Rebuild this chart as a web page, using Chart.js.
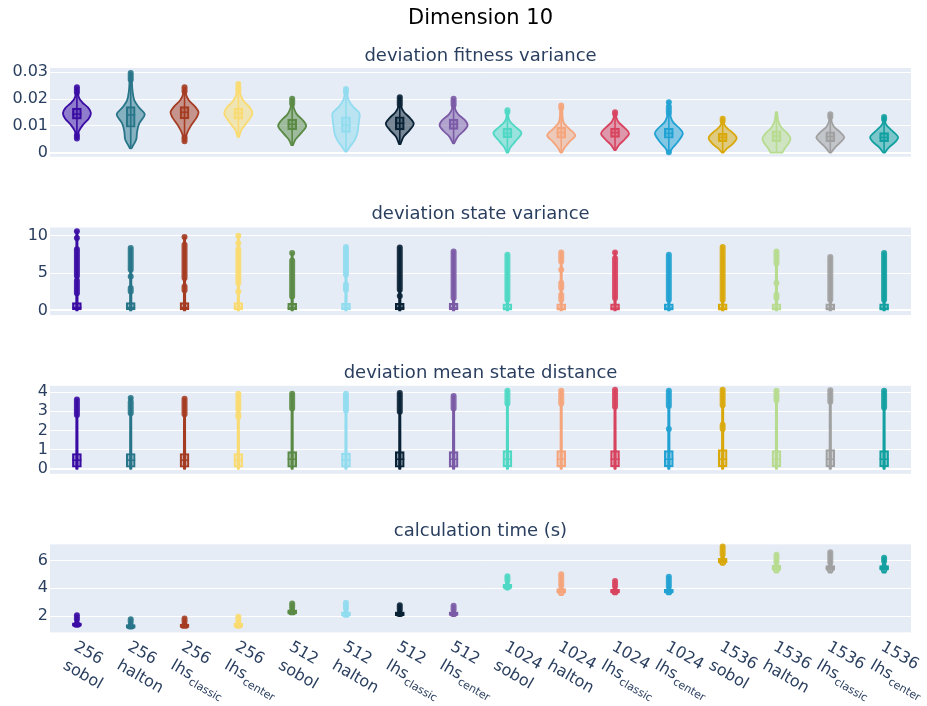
<!DOCTYPE html>
<html>
<head>
<meta charset="utf-8">
<script src="https://cdn.jsdelivr.net/npm/chart.js@4.4.1/dist/chart.umd.min.js"></script>
<style>
  html, body { margin: 0; padding: 0; background: #ffffff; }
  #wrap { position: relative; width: 927px; height: 706px; overflow: hidden; background: #ffffff; }
  .panel { position: absolute; left: 0; width: 927px; }
</style>
</head>
<body>
<div id="wrap"></div>
<script>
// ---------- categories ----------
const sampleSizes = ['256','256','256','256','512','512','512','512','1024','1024','1024','1024','1536','1536','1536','1536'];
const samplers = ['sobol','halton','lhs_classic','lhs_center','sobol','halton','lhs_classic','lhs_center',
                  'sobol','halton','lhs_classic','lhs_center','sobol','halton','lhs_classic','lhs_center'];
const seriesColors = ['#3a0ca3','#287589','#a53c22','#f9db72','#5a8a45','#92dcef','#0a2236','#7b5aa6',
                      '#4fd8c4','#f5a57c','#d8445f','#22a2d3','#d9a80b','#b7db8f','#a0a0a0','#12a0a0'];

// ---------- deviation fitness variance ----------
const fitnessTicks = [0, 0.01, 0.02, 0.03];
const fitnessTickLabels = ['0', '0.01', '0.02', '0.03'];
const fitnessRange = [-0.0015, 0.0316];
const fitnessQ1 = [0.0125,0.0095,0.0126,0.0125,0.0085,0.0076,0.0085,0.0087,0.0056,0.0054,0.0057,0.0054,0.0041,0.0041,0.0041,0.0041];
const fitnessMedian = [0.0144,0.0141,0.0151,0.0148,0.0106,0.0103,0.0110,0.0106,0.0072,0.0075,0.0075,0.0072,0.0057,0.0062,0.0060,0.0057];
const fitnessQ3 = [0.0166,0.0172,0.0172,0.0166,0.0125,0.0134,0.0134,0.0125,0.0091,0.0095,0.0091,0.0091,0.0072,0.0082,0.0078,0.0075];
const fitnessWhiskers = [[0.0068,0.0222],[0.0016,0.0270],[0.0060,0.0226],[0.0060,0.0230],[0.0028,0.0180],[0.0004,0.0222],
  [0.0035,0.0176],[0.0035,0.0176],[0,0.0143],[0,0.0163],[0.0010,0.0143],[0.0005,0.0158],[0,0.0115],[0,0.0151],[0,0.0130],[0,0.0123]];
const fitnessDensity = [
  [[0.0053,0.06],[0.008,0.14],[0.0105,0.45],[0.0128,0.85],[0.0148,1],[0.0168,0.8],[0.0188,0.38],[0.0208,0.13],[0.0244,0.05]],
  [[0.0016,0.06],[0.003,0.2],[0.005,0.4],[0.008,0.46],[0.011,0.62],[0.0143,1],[0.0168,0.6],[0.0195,0.26],[0.023,0.13],[0.027,0.08],[0.0297,0.06]],
  [[0.0043,0.05],[0.007,0.16],[0.010,0.45],[0.013,0.85],[0.0151,1],[0.0172,0.75],[0.0195,0.32],[0.0215,0.12],[0.0244,0.05]],
  [[0.0059,0.06],[0.0085,0.22],[0.0115,0.65],[0.0145,1],[0.017,0.8],[0.019,0.42],[0.0212,0.18],[0.0235,0.08],[0.0256,0.05]],
  [[0.0028,0.06],[0.005,0.25],[0.0072,0.62],[0.0099,1],[0.0122,0.75],[0.0142,0.35],[0.0162,0.15],[0.0182,0.07],[0.0201,0.05]],
  [[0.0004,0.05],[0.0022,0.28],[0.0045,0.6],[0.007,0.8],[0.0095,0.88],[0.0125,0.95],[0.0148,0.95],[0.0172,0.5],[0.0195,0.2],[0.0215,0.1],[0.0238,0.05]],
  [[0.0032,0.05],[0.006,0.28],[0.0085,0.72],[0.0108,1],[0.013,0.72],[0.015,0.32],[0.0172,0.1],[0.0207,0.05]],
  [[0.0035,0.05],[0.006,0.3],[0.008,0.7],[0.0102,1],[0.0122,0.8],[0.0142,0.35],[0.0162,0.12],[0.0201,0.05]],
  [[0,0.05],[0.002,0.22],[0.0043,0.58],[0.0072,1],[0.0092,0.68],[0.0112,0.25],[0.013,0.08],[0.0158,0.05]],
  [[0,0.05],[0.002,0.26],[0.0042,0.62],[0.0065,1],[0.009,0.55],[0.011,0.2],[0.013,0.1],[0.0155,0.08],[0.0176,0.05]],
  [[0.001,0.05],[0.003,0.3],[0.005,0.7],[0.0072,1],[0.0092,0.7],[0.0112,0.28],[0.013,0.1],[0.0151,0.05]],
  [[0,0.05],[0.002,0.3],[0.0043,0.68],[0.0072,1],[0.0093,0.72],[0.0112,0.33],[0.0132,0.14],[0.016,0.07],[0.0191,0.05]],
  [[0,0.05],[0.0015,0.3],[0.0033,0.72],[0.0055,1],[0.0075,0.7],[0.009,0.35],[0.0105,0.12],[0.0127,0.05]],
  [[0,0.42],[0.0018,0.62],[0.0036,0.88],[0.0053,1],[0.0072,0.78],[0.0092,0.38],[0.011,0.18],[0.013,0.09],[0.0151,0.05]],
  [[0,0.05],[0.002,0.35],[0.004,0.75],[0.0057,1],[0.0076,0.72],[0.0095,0.3],[0.0115,0.1],[0.0143,0.05]],
  [[0,0.05],[0.002,0.35],[0.004,0.8],[0.0058,1],[0.0076,0.7],[0.0095,0.3],[0.011,0.1],[0.0133,0.05]]
];
const fitnessOutliers = [
  [[0.0053,0.0065],[0.0225,0.0244]], [[0.0272,0.0297]], [[0.0043,0.0058],[0.0228,0.0244]], [[0.0228,0.0243],[0.0256,0.0256]],
  [[0.0183,0.0201]], [[0.0225,0.0238]], [[0.0178,0.0207]], [[0.0178,0.0201]],
  [[0.0152,0.0158]], [[0.0168,0.0176]], [[0.0145,0.0151]], [[0.0188,0.0188],[0.0148,0.0172],[0.0002,0.0002]],
  [[0.0118,0.0127]], [], [[0.0133,0.0143]], [[0.0125,0.0133]]
];

// ---------- deviation state variance ----------
const stateTicks = [0, 5, 10];
const stateTickLabels = ['0', '5', '10'];
const stateRange = [-0.62, 11.11];
const stateQ1 = [0.08,0.08,0.08,0.08,0.06,0.06,0.06,0.06,0.05,0.05,0.05,0.05,0.05,0.05,0.05,0.05];
const stateMedian = [0.4,0.4,0.4,0.4,0.35,0.35,0.35,0.35,0.3,0.3,0.3,0.3,0.3,0.3,0.3,0.3];
const stateQ3 = [1.05,1.05,1.05,1.05,0.95,0.95,0.95,0.95,0.9,0.9,0.9,0.9,0.9,0.9,0.9,0.9];
const stateWhiskers = [[0,2.4],[0,2.4],[0,2.4],[0,2.4],[0,2.2],[0,2.2],[0,2.2],[0,2.2],
  [0,2.1],[0,2.1],[0,2.1],[0,2.1],[0,2.1],[0,2.1],[0,2.1],[0,2.1]];
const stateDensity = [
  [[0,0.05],[10.6,0.04]], [[0,0.05],[8.35,0.04]], [[0,0.05],[9.83,0.04]], [[0,0.05],[10.0,0.04]],
  [[0,0.05],[7.68,0.04]], [[0,0.05],[8.5,0.04]], [[0,0.05],[8.43,0.04]], [[0,0.05],[7.9,0.04]],
  [[0,0.05],[7.46,0.04]], [[0,0.05],[7.76,0.04]], [[0,0.05],[7.76,0.04]], [[0,0.05],[7.46,0.04]],
  [[0,0.05],[8.5,0.04]], [[0,0.05],[7.9,0.04]], [[0,0.05],[7.15,0.04]], [[0,0.05],[7.68,0.04]]
];
const stateOutliers = [
  [[10.6,10.6],[9.7,9.7],[4.6,8.2],[2.3,4.0]],
  [[5.45,8.35],[4.55,4.55],[2.55,3.0]],
  [[9.83,9.83],[4.34,8.8],[2.7,3.2]],
  [[10.0,10.0],[9.0,9.0],[3.67,8.2],[2.55,2.55]],
  [[7.68,7.68],[1.87,6.7]],
  [[4.8,8.5],[2.77,3.44]],
  [[2.77,8.43],[1.94,1.94]],
  [[1.66,7.9]],
  [[1.43,7.46]],
  [[6.56,7.76],[5.45,5.45],[3.0,3.67],[1.43,2.1]],
  [[7.76,7.76],[1.66,7.0]],
  [[1.43,7.46]],
  [[1.43,8.5]],
  [[6.3,7.9],[3.67,3.67],[1.66,2.1]],
  [[1.43,7.15]],
  [[1.43,7.68]]
];

// ---------- deviation mean state distance ----------
const distanceTicks = [0, 1, 2, 3, 4];
const distanceTickLabels = ['0', '1', '2', '3', '4'];
const distanceRange = [-0.26, 4.33];
const distanceQ1 = [0.08,0.08,0.08,0.08,0.08,0.08,0.08,0.08,0.1,0.1,0.1,0.1,0.1,0.1,0.1,0.1];
const distanceMedian = [0.45,0.45,0.45,0.45,0.5,0.45,0.5,0.5,0.5,0.5,0.5,0.5,0.5,0.5,0.5,0.5];
const distanceQ3 = [0.8,0.8,0.8,0.8,0.9,0.82,0.9,0.9,0.95,0.95,0.95,0.95,1.0,0.95,1.0,0.95];
const distanceWhiskers = [[0,1.9],[0,1.9],[0,1.9],[0,1.9],[0,2.1],[0,1.9],[0,2.1],[0,2.1],
  [0,2.2],[0,2.2],[0,2.2],[0,2.2],[0,2.3],[0,2.2],[0,2.3],[0,2.2]];
const distanceDensity = [
  [[0,0.05],[3.62,0.04]], [[0,0.05],[3.7,0.04]], [[0,0.05],[3.65,0.04]], [[0,0.05],[3.92,0.04]],
  [[0,0.05],[3.92,0.04]], [[0,0.05],[3.92,0.04]], [[0,0.05],[3.95,0.04]], [[0,0.05],[3.8,0.04]],
  [[0,0.05],[4.07,0.04]], [[0,0.05],[4.07,0.04]], [[0,0.05],[4.13,0.04]], [[0,0.05],[4.07,0.04]],
  [[0,0.05],[4.13,0.04]], [[0,0.05],[4.07,0.04]], [[0,0.05],[4.1,0.04]], [[0,0.05],[4.07,0.04]]
];
const distanceOutliers = [
  [[2.81,3.62]], [[3.7,3.7],[2.9,3.5]], [[2.85,3.65]], [[3.8,3.92],[3.1,3.6],[2.7,2.85]],
  [[3.14,3.92]], [[3.05,3.92]], [[2.97,3.95]], [[3.14,3.8]],
  [[3.41,4.07]], [[3.41,4.07]], [[3.24,4.13]], [[3.27,4.07],[2.08,2.08]],
  [[3.32,4.13],[2.08,2.3]], [[3.58,4.07]], [[3.5,4.1]], [[3.2,4.07]]
];

// ---------- calculation time (s) ----------
const timeTicks = [2, 4, 6];
const timeTickLabels = ['2', '4', '6'];
const timeRange = [0.83, 7.15];
const timeQ1 = [1.27,1.14,1.18,1.2,2.17,2.0,2.04,2.05,3.98,3.66,3.66,3.66,5.82,5.3,5.3,5.32];
const timeMedian = [1.38,1.25,1.28,1.32,2.3,2.12,2.15,2.16,4.1,3.8,3.78,3.78,5.98,5.45,5.45,5.45];
const timeQ3 = [1.52,1.4,1.43,1.5,2.45,2.3,2.3,2.3,4.28,3.97,3.93,3.93,6.15,5.65,5.62,5.62];
const timeWhiskers = [[1.23,1.7],[1.1,1.55],[1.15,1.58],[1.15,1.65],[2.12,2.58],[1.95,2.5],[2.0,2.42],[2.0,2.42],
  [3.91,4.5],[3.51,4.15],[3.56,4.1],[3.56,4.08],[5.68,6.4],[5.12,5.88],[5.12,5.82],[5.12,5.9]];
const timeDensity = [
  [[1.23,0.1],[1.3,0.22],[1.5,0.15],[1.7,0.06],[2.07,0.05]],
  [[1.1,0.1],[1.18,0.22],[1.38,0.15],[1.55,0.06],[1.78,0.05]],
  [[1.15,0.1],[1.22,0.22],[1.42,0.15],[1.58,0.06],[1.83,0.05]],
  [[1.15,0.1],[1.24,0.22],[1.48,0.15],[1.65,0.06],[1.95,0.05]],
  [[2.12,0.1],[2.2,0.22],[2.43,0.15],[2.58,0.06],[2.9,0.05]],
  [[1.95,0.1],[2.04,0.2],[2.28,0.12],[2.5,0.06],[2.96,0.05]],
  [[2.0,0.1],[2.07,0.2],[2.28,0.12],[2.42,0.06],[2.78,0.05]],
  [[2.0,0.1],[2.08,0.2],[2.28,0.12],[2.42,0.06],[2.74,0.05]],
  [[3.91,0.1],[4.02,0.2],[4.26,0.12],[4.5,0.06],[4.87,0.05]],
  [[3.51,0.1],[3.7,0.2],[3.95,0.12],[4.15,0.06],[5.0,0.05]],
  [[3.56,0.1],[3.7,0.2],[3.9,0.12],[4.1,0.06],[4.52,0.05]],
  [[3.56,0.1],[3.7,0.2],[3.9,0.12],[4.08,0.06],[4.83,0.05]],
  [[5.68,0.1],[5.86,0.2],[6.12,0.12],[6.4,0.06],[7.0,0.05]],
  [[5.12,0.1],[5.34,0.2],[5.62,0.12],[5.88,0.06],[6.4,0.05]],
  [[5.12,0.1],[5.34,0.2],[5.6,0.12],[5.82,0.06],[6.59,0.05]],
  [[5.12,0.1],[5.36,0.2],[5.6,0.12],[5.9,0.06],[6.2,0.05]]
];
const timeOutliers = [
  [[1.75,2.07]], [[1.6,1.78]], [[1.62,1.83]], [[1.68,1.95]],
  [[2.62,2.9]], [[2.55,2.96]], [[2.45,2.78]], [[2.45,2.74]],
  [[4.55,4.87]], [[4.2,5.0]], [[4.15,4.52]], [[4.1,4.83]],
  [[6.42,7.0]], [[5.9,6.4]], [[5.85,6.59]], [[5.95,6.2]]
];

// ---------- drawing helpers ----------
const FONT = '"DejaVu Sans", Verdana, sans-serif';
const INK = '#2a3f5f';
const PLOT_BG = '#e5ecf6';

function withAlpha(hex, a) {
  const n = parseInt(hex.slice(1), 16);
  return `rgba(${n >> 16},${(n >> 8) & 255},${n & 255},${a})`;
}

// Catmull-Rom curve through a list of points (path already positioned at pts[0])
function curveThrough(ctx, pts) {
  for (let i = 0; i < pts.length - 1; i++) {
    const p0 = pts[i - 1] || pts[i], p1 = pts[i], p2 = pts[i + 1], p3 = pts[i + 2] || pts[i + 1];
    ctx.bezierCurveTo(
      p1.x + (p2.x - p0.x) / 6, p1.y + (p2.y - p0.y) / 6,
      p2.x - (p3.x - p1.x) / 6, p2.y - (p3.y - p1.y) / 6,
      p2.x, p2.y);
  }
}

const panelSpecs = new WeakMap();

const violinPlugin = {
  id: 'violinPanel',
  beforeDraw(chart) {
    const { ctx, chartArea: a } = chart;
    ctx.save();
    ctx.fillStyle = PLOT_BG;
    ctx.fillRect(a.left, a.top, a.right - a.left, a.bottom - a.top);
    ctx.restore();
  },
  beforeDatasetsDraw(chart) {
    const spec = panelSpecs.get(chart.canvas);
    const { ctx } = chart;
    const xs = chart.scales.x, ys = chart.scales.y;
    const maxHalf = (xs.width / sampleSizes.length) * 0.26;
    ctx.save();
    spec.density.forEach((profile, i) => {
      const color = seriesColors[i];
      const cx = xs.getPixelForValue(i);
      const right = profile.map(([v, w]) => ({ x: cx + w * maxHalf, y: ys.getPixelForValue(v) }));
      const left = profile.map(([v, w]) => ({ x: cx - w * maxHalf, y: ys.getPixelForValue(v) })).reverse();
      ctx.beginPath();
      ctx.moveTo(right[0].x, right[0].y);
      curveThrough(ctx, right);
      ctx.lineTo(left[0].x, left[0].y);
      curveThrough(ctx, left);
      ctx.closePath();
      ctx.fillStyle = withAlpha(color, 0.5);
      ctx.fill();
      ctx.lineJoin = 'round';
      ctx.lineWidth = 1.8;
      ctx.strokeStyle = color;
      ctx.stroke();
      // whisker
      const [lo, hi] = spec.whiskers[i];
      ctx.beginPath();
      ctx.moveTo(cx, ys.getPixelForValue(lo));
      ctx.lineTo(cx, ys.getPixelForValue(hi));
      ctx.lineWidth = 1.6;
      ctx.stroke();
    });
    ctx.restore();
  },
  afterDatasetsDraw(chart) {
    const spec = panelSpecs.get(chart.canvas);
    const { ctx } = chart;
    const xs = chart.scales.x, ys = chart.scales.y;
    ctx.save();
    spec.median.forEach((m, i) => {
      const color = seriesColors[i];
      const cx = xs.getPixelForValue(i);
      const y = ys.getPixelForValue(m);
      ctx.strokeStyle = color;
      ctx.lineWidth = 1.5;
      ctx.beginPath();
      ctx.moveTo(cx - 4.5, y);
      ctx.lineTo(cx + 4.5, y);
      ctx.stroke();
      // outlying points
      ctx.globalAlpha = 0.9;
      ctx.fillStyle = color;
      ctx.lineCap = 'round';
      ctx.lineWidth = 6;
      spec.outliers[i].forEach(([lo, hi]) => {
        const y0 = ys.getPixelForValue(lo), y1 = ys.getPixelForValue(hi);
        if (Math.abs(y0 - y1) < 0.5) {
          ctx.beginPath();
          ctx.arc(cx, y0, 3, 0, Math.PI * 2);
          ctx.fill();
        } else {
          ctx.beginPath();
          ctx.moveTo(cx, y0);
          ctx.lineTo(cx, y1);
          ctx.stroke();
        }
      });
      ctx.globalAlpha = 1;
      ctx.lineCap = 'butt';
    });
    ctx.restore();
  },
  afterDraw(chart) {
    const spec = panelSpecs.get(chart.canvas);
    if (!spec.categoryLabels) return;
    const { ctx, chartArea: a } = chart;
    const xs = chart.scales.x;
    const angle = 30 * Math.PI / 180;
    ctx.save();
    ctx.fillStyle = INK;
    ctx.textAlign = 'left';
    ctx.textBaseline = 'alphabetic';
    sampleSizes.forEach((size, i) => {
      const x = xs.getPixelForValue(i);
      ctx.save();
      ctx.translate(x - 4, a.bottom + 17);
      ctx.rotate(angle);
      ctx.font = '16px ' + FONT;
      ctx.fillText(size, 0, 0);
      const [base, sub] = samplers[i].split('_');
      ctx.fillText(base, 0, 21.5);
      if (sub) {
        const w = ctx.measureText(base).width;
        ctx.font = '11px ' + FONT;
        ctx.fillText(sub, w + 0.5, 26);
      }
      ctx.restore();
    });
    ctx.restore();
  }
};

function makePanel(cfg) {
  const holder = document.createElement('div');
  holder.className = 'panel';
  holder.style.top = cfg.top + 'px';
  holder.style.height = cfg.height + 'px';
  const canvas = document.createElement('canvas');
  holder.appendChild(canvas);
  document.getElementById('wrap').appendChild(holder);
  panelSpecs.set(canvas, cfg);

  const titleBlocks = {
    title: {
      display: true, text: cfg.title, fullSize: false,
      color: cfg.titleColor || INK,
      font: { family: FONT, size: cfg.titleSize || 18, weight: 'normal', lineHeight: 1.2 },
      padding: cfg.titlePadding
    },
    subtitle: cfg.subtitle ? {
      display: true, text: cfg.subtitle, fullSize: false, color: INK,
      font: { family: FONT, size: 18, weight: 'normal', lineHeight: 1.2 },
      padding: cfg.subtitlePadding
    } : { display: false }
  };

  return new Chart(canvas, {
    type: 'bar',
    data: {
      labels: sampleSizes.map((s, i) => s + ' ' + samplers[i].replace('_', ' ')),
      datasets: [{
        label: 'box',
        data: cfg.q1.map((q, i) => [q, cfg.q3[i]]),
        backgroundColor: seriesColors.map(c => withAlpha(c, 0.35)),
        borderColor: seriesColors,
        borderWidth: 1.5,
        borderSkipped: false,
        barThickness: 9
      }]
    },
    options: {
      responsive: true,
      maintainAspectRatio: false,
      devicePixelRatio: 1,
      animation: false,
      events: [],
      layout: { padding: { left: 0, right: 16, top: 0, bottom: cfg.padBottom } },
      plugins: Object.assign({ legend: { display: false }, tooltip: { enabled: false } }, titleBlocks),
      scales: {
        x: { type: 'category', display: false, offset: true, grid: { display: false } },
        y: {
          min: cfg.range[0], max: cfg.range[1],
          afterBuildTicks: s => { s.ticks = cfg.ticks.map(v => ({ value: v })); },
          afterFit: s => { s.width = 50; s.paddingTop = 0; s.paddingBottom = 0; },
          ticks: {
            autoSkip: false,
            callback: (v, idx) => cfg.tickLabels[idx],
            color: INK, padding: 2,
            font: { family: FONT, size: 16 }
          },
          grid: {
            color: '#ffffff', drawTicks: false,
            lineWidth: c => (c.tick && c.tick.value === 0 ? 2 : 1)
          },
          border: { display: false }
        }
      }
    },
    plugins: [violinPlugin]
  });
}

makePanel({
  top: 0, height: 167, padBottom: 10.3,
  title: 'Dimension 10', titleColor: '#000000', titleSize: 21, titlePadding: { top: 6, bottom: 0 },
  subtitle: 'deviation fitness variance', subtitlePadding: { top: 14.7, bottom: 0.5 },
  range: fitnessRange, ticks: fitnessTicks, tickLabels: fitnessTickLabels,
  q1: fitnessQ1, median: fitnessMedian, q3: fitnessQ3, whiskers: fitnessWhiskers,
  density: fitnessDensity, outliers: fitnessOutliers
});
makePanel({
  top: 200.2, height: 125, padBottom: 9.9,
  title: 'deviation state variance', titlePadding: { top: 4, bottom: 1.9 },
  range: stateRange, ticks: stateTicks, tickLabels: stateTickLabels,
  q1: stateQ1, median: stateMedian, q3: stateQ3, whiskers: stateWhiskers,
  density: stateDensity, outliers: stateOutliers
});
makePanel({
  top: 359.2, height: 125, padBottom: 10.2,
  title: 'deviation mean state distance', titlePadding: { top: 4, bottom: 1.2 },
  range: distanceRange, ticks: distanceTicks, tickLabels: distanceTickLabels,
  q1: distanceQ1, median: distanceMedian, q3: distanceQ3, whiskers: distanceWhiskers,
  density: distanceDensity, outliers: distanceOutliers
});
makePanel({
  top: 516.9, height: 189.1, padBottom: 73.7,
  title: 'calculation time (s)', titlePadding: { top: 4, bottom: 1.8 },
  range: timeRange, ticks: timeTicks, tickLabels: timeTickLabels,
  q1: timeQ1, median: timeMedian, q3: timeQ3, whiskers: timeWhiskers,
  density: timeDensity, outliers: timeOutliers, categoryLabels: true
});
</script>
</body>
</html>
